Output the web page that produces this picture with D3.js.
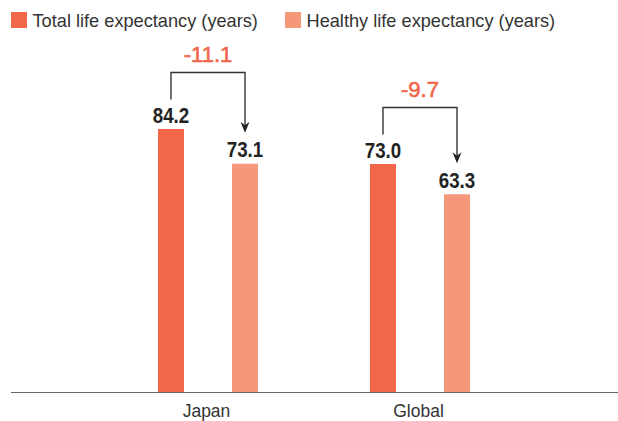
<!DOCTYPE html>
<html>
<head>
<meta charset="utf-8">
<script src="https://cdn.jsdelivr.net/npm/d3@7"></script>
<style>
  html, body { margin: 0; padding: 0; background: #fff; }
  svg { display: block; }
</style>
</head>
<body>
<svg id="chart" width="618" height="421"></svg>
<script>
// ---- data ----
const categories = ["Japan", "Global"];
const seriesNames = ["Total life expectancy (years)", "Healthy life expectancy (years)"];
const totalLife = [84.2, 73.0];
const healthyLife = [73.1, 63.3];
const differences = ["-11.1", "-9.7"];
const colors = ["#F2674A", "#F5987A"];

// ---- layout ----
const svg = d3.select("#chart");
const W = 618, H = 421;
const baseY = 392;
const font = "'Liberation Sans', Arial, Helvetica, sans-serif";

const x0 = d3.scaleBand().domain(categories).range([102, 526]).paddingInner(0).paddingOuter(0);
const x1 = d3.scaleBand().domain([0, 1]).range([56, 156]).paddingInner(0.649).paddingOuter(0);
const y = d3.scaleLinear().domain([0, d3.max(totalLife)]).range([baseY, 129]);

const data = categories.map((c, i) => ({
  cat: c,
  values: [totalLife[i], healthyLife[i]],
  diff: differences[i]
}));

// ---- legend ----
const legend = svg.append("g");
const legendX = [11, 285];
seriesNames.forEach((name, i) => {
  legend.append("rect")
    .attr("x", legendX[i]).attr("y", 12)
    .attr("width", 16).attr("height", 16)
    .attr("fill", colors[i]);
  legend.append("text")
    .attr("x", legendX[i] + 21.5).attr("y", 26.7)
    .style("font-family", font).style("font-size", "18.2px")
    .attr("fill", "#333")
    .text(name);
});

// ---- bars ----
const groups = svg.selectAll("g.grp").data(data).join("g")
  .attr("class", "grp")
  .attr("transform", d => `translate(${x0(d.cat)},0)`);

groups.selectAll("rect").data(d => d.values).join("rect")
  .attr("x", (v, j) => x1(j))
  .attr("width", x1.bandwidth())
  .attr("y", v => y(v))
  .attr("height", v => baseY - y(v))
  .attr("fill", (v, j) => colors[j]);

groups.selectAll("text.val").data(d => d.values).join("text")
  .attr("class", "val")
  .attr("transform", (v, j) => `translate(${x1(j) + x1.bandwidth() / 2},${y(v) - 6.3}) scale(0.87,1)`)
  .attr("text-anchor", "middle")
  .style("font-family", font)
  .style("font-weight", "bold")
  .style("font-size", "21.5px")
  .attr("fill", "#222")
  .text(v => v.toFixed(1));

// ---- brackets with arrows ----
groups.each(function(d) {
  const g = d3.select(this);
  const xl = x1(0) + x1.bandwidth() / 2;
  const xr = x1(1) + x1.bandwidth() / 2;
  const topY = y(d.values[0]) - 56.5;
  const leftEnd = y(d.values[0]) - 29.5;
  const tipY = y(d.values[1]) - 31;
  g.append("path")
    .attr("d", `M${xl},${leftEnd} V${topY} H${xr} V${tipY - 3}`)
    .attr("fill", "none")
    .attr("stroke", "#333")
    .attr("stroke-width", 1.4);
  g.append("path")
    .attr("d", `M${xr - 4.5},${tipY - 11} L${xr},${tipY - 7.5} L${xr + 4.5},${tipY - 11} L${xr},${tipY} Z`)
    .attr("fill", "#222");
  g.append("text")
    .attr("x", (xl + xr) / 2)
    .attr("y", topY - 10.5)
    .attr("text-anchor", "middle")
    .style("font-family", font)
    .style("font-size", "22px")
    .attr("fill", colors[0])
    .attr("stroke", colors[0])
    .attr("stroke-width", 0.6)
    .text(d.diff);
});

// ---- axis ----
svg.append("line")
  .attr("x1", 11).attr("x2", W)
  .attr("y1", baseY + 0.5).attr("y2", baseY + 0.5)
  .attr("stroke", "#666").attr("stroke-width", 1);

const xAxis = d3.axisBottom(x0).tickSize(0).tickPadding(0);
const axisG = svg.append("g")
  .attr("transform", `translate(-1.5,${baseY})`)
  .call(xAxis);
axisG.select(".domain").remove();
axisG.style("font-family", font).style("font-size", "17.5px");
axisG.selectAll("text")
  .style("font-family", font)
  .style("font-size", "17.5px")
  .attr("fill", "#333")
  .attr("dy", "0")
  .attr("y", 25.3);
</script>
</body>
</html>
